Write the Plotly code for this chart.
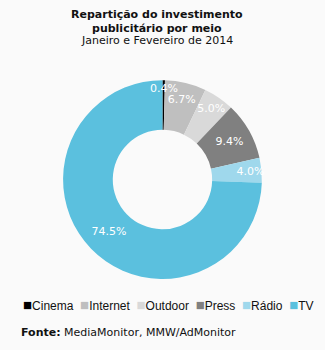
import math
import plotly.graph_objects as go

labels = ["Cinema", "Internet", "Outdoor", "Press", "Rádio", "TV"]
values = [0.4, 6.7, 5.0, 9.4, 4.0, 74.5]
colors = ["#000000", "#bfbfbf", "#d9d9d9", "#808080", "#9fd8ec", "#5bc0de"]

title_lines = ["Repartição do investimento", "publicitário por meio", "Janeiro e Fevereiro de 2014"]
source_label = "Fonte:"
source_text = "MediaMonitor, MMW/AdMonitor"

W, H = 325, 350
dom_x = [0.1938, 0.806]
dom_y = [0.203, 0.771]

# the tiny first slice gets its label as an annotation below
templates = [""] + ["%{value:.1f}%"] * (len(values) - 1)

fig = go.Figure(go.Pie(
    labels=labels,
    values=values,
    hole=0.5,
    sort=False,
    direction="clockwise",
    rotation=0,
    marker=dict(colors=colors, line=dict(width=0)),
    texttemplate=templates,
    textposition="inside",
    insidetextorientation="horizontal",
    textfont=dict(family="DejaVu Sans", size=11, color="white"),
    domain=dict(x=dom_x, y=dom_y),
    hoverinfo="label+percent",
    showlegend=False,
))

annotations = [
    dict(text="<b>" + title_lines[0] + "<br>" + title_lines[1] + "</b>",
         x=0.482, y=1 - 6 / H, xref="paper", yref="paper", xanchor="center", yanchor="top",
         showarrow=False, font=dict(family="DejaVu Sans", size=11, color="#111")),
    dict(text=title_lines[2],
         x=0.482, y=1 - 32 / H, xref="paper", yref="paper", xanchor="center", yanchor="top",
         showarrow=False, font=dict(family="DejaVu Sans", size=11, color="#111")),
    dict(text="<b>" + source_label + "</b> " + source_text,
         x=19 / W, y=1 - 332 / H, xref="paper", yref="paper", xanchor="left", yanchor="middle",
         showarrow=False, font=dict(family="DejaVu Sans", size=11, color="#111")),
]

# Legend built from labels/colors
legend_parts = []
for lab, col in zip(labels, colors):
    legend_parts.append("<span style='color:%s;font-size:15px'>■</span>%s" % (col, lab))
legend_text = "&nbsp;&nbsp;".join(legend_parts)
annotations.append(dict(
    text=legend_text, x=168 / W, y=1 - 304 / H, xref="paper", yref="paper",
    xanchor="center", yanchor="middle", showarrow=False,
    font=dict(family="Liberation Sans, Arial", size=12, color="#111")))

# Small-slice label (Cinema) placed near outer edge at its mid angle
cx = (dom_x[0] + dom_x[1]) / 2
cy = (dom_y[0] + dom_y[1]) / 2
r_out_px = (dom_y[1] - dom_y[0]) * H / 2
total = sum(values)
mid_frac = values[0] / 2 / total
ang = 2 * math.pi * mid_frac
r_lab = r_out_px * 0.915
annotations.append(dict(
    text="%.1f%%" % values[0],
    x=cx + r_lab * math.sin(ang) / W, y=cy + r_lab * math.cos(ang) / H,
    xref="paper", yref="paper", xanchor="center", yanchor="middle", showarrow=False,
    font=dict(family="DejaVu Sans", size=11, color="white")))

fig.update_layout(
    width=W, height=H,
    margin=dict(l=0, r=0, t=0, b=0),
    paper_bgcolor="#fafafa",
    plot_bgcolor="#fafafa",
    uniformtext=dict(minsize=11, mode="show"),
    showlegend=False,
    annotations=annotations,
)

fig.write_html("out.html")
